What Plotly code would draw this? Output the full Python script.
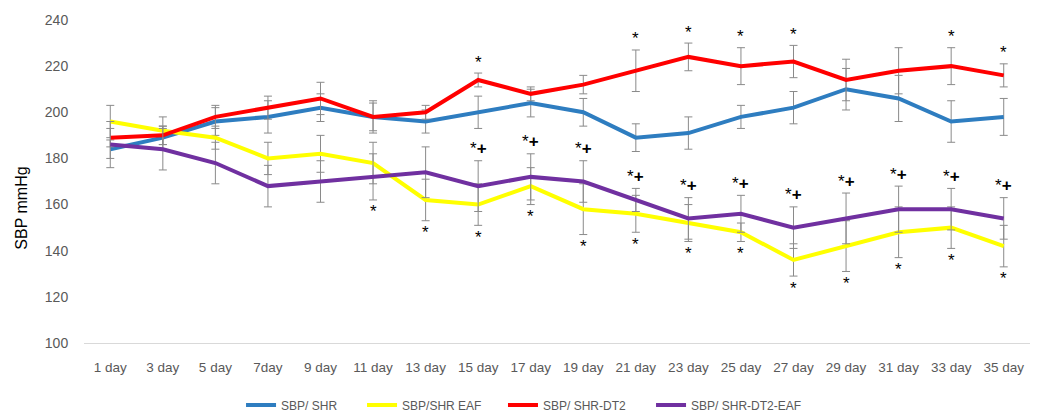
import plotly.graph_objects as go

# Time points and systolic blood pressure (mmHg) per group
days = ["1 day", "3 day", "5 day", "7day", "9 day", "11 day", "13 day", "15 day", "17 day",
        "19 day", "21 day", "23 day", "25 day", "27 day", "29 day", "31 day", "33 day", "35 day"]

shr = [184, 189, 196, 198, 202, 198, 196, 200, 204, 200, 189, 191, 198, 202, 210, 206, 196, 198]
shr_err = [4, 5, 6, 7, 6, 6, 5, 7, 6, 6, 6, 7, 5, 7, 9, 10, 9, 8]

shr_eaf = [196, 192, 189, 180, 182, 178, 162, 160, 168, 158, 156, 152, 148, 136, 142, 148, 150, 142]
shr_eaf_err = [7, 6, 5, 7, 8, 9, 9, 9, 8, 11, 8, 8, 4, 7, 11, 11, 9, 9]

dt2 = [189, 190, 198, 202, 206, 198, 200, 214, 208, 212, 218, 224, 220, 222, 214, 218, 220, 216]
dt2_err = [4, 4, 5, 5, 7, 7, 3, 3, 3, 4, 9, 6, 8, 7, 9, 10, 8, 5]

dt2_eaf = [186, 184, 178, 168, 170, 172, 174, 168, 172, 170, 162, 154, 156, 150, 154, 158, 158, 154]
dt2_eaf_err = [10, 9, 9, 9, 9, 10, 11, 11, 10, 9, 5, 9, 8, 9, 11, 10, 9, 9]

# Significance markers
sig_dt2 = ["15 day", "21 day", "23 day", "25 day", "27 day", "33 day", "35 day"]
sig_eaf = ["11 day", "13 day", "15 day", "17 day", "19 day", "21 day", "23 day", "25 day",
           "27 day", "29 day", "31 day", "33 day", "35 day"]
sig_dt2_eaf = ["15 day", "17 day", "19 day", "21 day", "23 day", "25 day", "27 day",
               "29 day", "31 day", "33 day", "35 day"]

series = [
    ("SBP/ SHR", shr, shr_err, "#2e7dc0"),
    ("SBP/SHR EAF", shr_eaf, shr_eaf_err, "#ffff00"),
    ("SBP/ SHR-DT2", dt2, dt2_err, "#ff0000"),
    ("SBP/ SHR-DT2-EAF", dt2_eaf, dt2_eaf_err, "#7030a0"),
]

FONT = "Liberation Sans, Arial, sans-serif"
GREY = "#595959"

# one legend box per series so the entries sit on a fixed row
legend_ids = ["legend", "legend2", "legend3", "legend4"]
legend_x = [0.1660, 0.2939, 0.4429, 0.5994]

fig = go.Figure()
for (name, vals, errs, color), lid in zip(series, legend_ids):
    fig.add_trace(go.Scatter(
        x=days, y=vals, name=name, mode="lines", legend=lid,
        line=dict(color=color, width=4),
        error_y=dict(type="data", array=errs, visible=True,
                     color="#8a8a8a", thickness=1, width=4),
    ))

annotations = []
star_font = dict(family=FONT, size=17, color="#000000")

# "*" above the SHR-DT2 error bars
for d in sig_dt2:
    i = days.index(d)
    annotations.append(dict(x=d, y=dt2[i] + dt2_err[i], xref="x", yref="y",
                            text="*", showarrow=False, yshift=11,
                            yanchor="middle", font=star_font))

# "*+" above the lower pair of error bars
for d in sig_dt2_eaf:
    i = days.index(d)
    top = max(shr_eaf[i] + shr_eaf_err[i], dt2_eaf[i] + dt2_eaf_err[i])
    annotations.append(dict(x=d, y=top, xref="x", yref="y",
                            text="*<b>+</b>", showarrow=False, yshift=12,
                            yanchor="middle", font=star_font))

# "*" below the lower pair of error bars
for d in sig_eaf:
    i = days.index(d)
    bottom = min(shr_eaf[i] - shr_eaf_err[i], dt2_eaf[i] - dt2_eaf_err[i])
    annotations.append(dict(x=d, y=bottom, xref="x", yref="y",
                            text="*", showarrow=False, yshift=-12,
                            yanchor="middle", font=star_font))

# Y axis title
annotations.append(dict(x=-0.0655, y=0.416, xref="paper", yref="paper",
                        xanchor="center", yanchor="middle",
                        text="SBP mmHg", textangle=-90, showarrow=False,
                        font=dict(family=FONT, size=16, color="#000000")))

legend_style = dict(orientation="h", xanchor="left", y=-0.192, yanchor="middle",
                    font=dict(family=FONT, size=12, color=GREY),
                    bgcolor="rgba(0,0,0,0)", borderwidth=0)

fig.update_layout(
    width=1040, height=418,
    margin=dict(l=84, r=10, t=20, b=75, autoexpand=False),
    paper_bgcolor="white", plot_bgcolor="white",
    font=dict(family=FONT, color=GREY),
    showlegend=True,
    annotations=annotations,
    **{lid: dict(x=lx, **legend_style) for lid, lx in zip(legend_ids, legend_x)},
)

fig.update_xaxes(
    type="category", range=[-0.5, len(days) - 0.5],
    showgrid=False, zeroline=False,
    showline=True, linecolor="#d9d9d9", linewidth=1,
    ticks="outside", ticklen=12, tickcolor="rgba(0,0,0,0)",
    tickfont=dict(family=FONT, size=13.5, color=GREY),
)
fig.update_yaxes(
    range=[100, 240], tickvals=list(range(100, 241, 20)),
    showgrid=False, zeroline=False, showline=False,
    ticks="outside", ticklen=12, tickcolor="rgba(0,0,0,0)",
    tickfont=dict(family=FONT, size=14, color=GREY),
)

fig.write_html("out.html")
